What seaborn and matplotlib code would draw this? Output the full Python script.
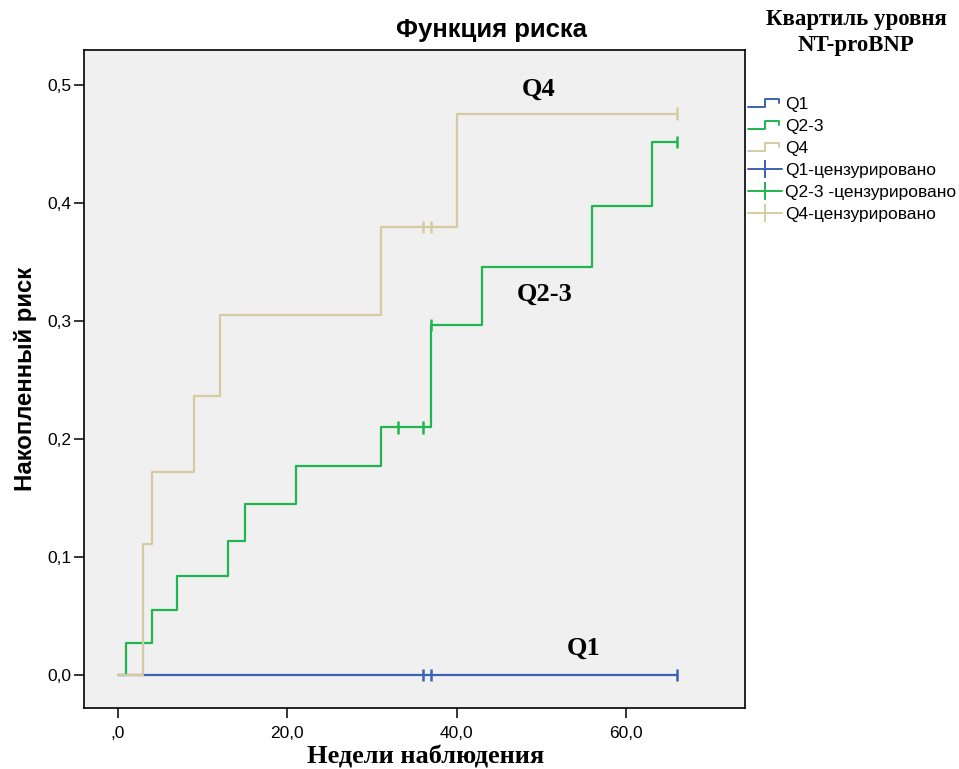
import numpy as np
import pandas as pd
import matplotlib
matplotlib.use("Agg")
import matplotlib.pyplot as plt
import seaborn as sns
from matplotlib.lines import Line2D
from matplotlib.legend_handler import HandlerBase

# ---------------- data ----------------
groups = ["Q1", "Q2-3", "Q4"]
q1_times = [0, 66]
q1_risk = [0.0, 0.0]
q23_times = [0, 1, 4, 7, 13, 15, 21, 31, 37, 43, 56, 63, 66]
q23_risk = [0.0, 0.027, 0.055, 0.084, 0.114, 0.145, 0.177, 0.210, 0.297, 0.346, 0.398, 0.452, 0.452]
q4_times = [0, 3, 4, 9, 12, 31, 40, 66]
q4_risk = [0.0, 0.111, 0.172, 0.237, 0.305, 0.380, 0.476, 0.476]
q1_censored = [36, 37, 66]
q23_censored = [33, 36, 37, 66]
q4_censored = [36, 37, 66]

x_ticks = [0, 20, 40, 60]
x_ticklabels = [",0", "20,0", "40,0", "60,0"]
y_ticks = [0.0, 0.1, 0.2, 0.3, 0.4, 0.5]
y_ticklabels = ["0,0", "0,1", "0,2", "0,3", "0,4", "0,5"]

title = "Функция риска"
xlabel = "Недели наблюдения"
ylabel = "Накопленный риск"
legend_title = "Квартиль уровня\nNT-proBNP"
legend_labels = ["Q1", "Q2-3", "Q4", "Q1-цензурировано", "Q2-3 -цензурировано", "Q4-цензурировано"]
colors = {"Q1": "#3d62b3", "Q2-3": "#1fb64f", "Q4": "#d6cba0"}

# ---------------- frames ----------------
series = {"Q1": (q1_times, q1_risk), "Q2-3": (q23_times, q23_risk), "Q4": (q4_times, q4_risk)}
cens = {"Q1": q1_censored, "Q2-3": q23_censored, "Q4": q4_censored}

rows = []
for g in groups:
    t, r = series[g]
    for a, b in zip(t, r):
        rows.append({"t": a, "risk": b, "grp": g})
df = pd.DataFrame(rows)

crow = []
for g in groups:
    t, r = series[g]
    t = np.asarray(t); r = np.asarray(r)
    for c in cens[g]:
        idx = np.searchsorted(t, c, side="right") - 1
        crow.append({"t": c, "risk": r[idx], "grp": g})
cdf = pd.DataFrame(crow)

# ---------------- style ----------------
sns.set_style("ticks")
plt.rcParams["font.family"] = ["Liberation Sans", "DejaVu Sans"]
for k in ["text.color", "axes.labelcolor", "xtick.color", "ytick.color"]:
    plt.rcParams[k] = "black"

fig = plt.figure(figsize=(9.59, 7.69), dpi=100)
ax = fig.add_axes([0.0876, 0.0793, 0.6893, 0.8557])
ax.set_facecolor("#f0f0f0")

sns.lineplot(data=df, x="t", y="risk", hue="grp", hue_order=groups, palette=colors,
             drawstyle="steps-post", estimator=None, legend=False, linewidth=1.6, ax=ax)
sns.scatterplot(data=cdf, x="t", y="risk", hue="grp", hue_order=groups, palette=colors,
                marker="|", s=80, linewidth=1.8, legend=False, ax=ax, zorder=3)

ax.set_xlim(-4, 74)
ax.set_ylim(-0.028, 0.530)
ax.set_xticks(x_ticks)
ax.set_xticklabels(x_ticklabels)
ax.set_yticks(y_ticks)
ax.set_yticklabels(y_ticklabels)
ax.tick_params(axis="both", direction="out", length=7, width=1.1, colors="black",
               labelsize=12.5, pad=2)
ax.tick_params(axis="x", pad=6)
for s in ax.spines.values():
    s.set_visible(True)
    s.set_color("black")
    s.set_linewidth(1.2)

ax.set_xlabel(xlabel, family="Liberation Serif", fontweight="bold", fontsize=19, va="center")
ax.xaxis.set_label_coords(0.517, -0.0745)
ax.set_ylabel(ylabel, fontweight="bold", fontsize=17.3, va="center")
ax.yaxis.set_label_coords(-0.088, 0.5)
fig.text(0.512, 0.961, title, ha="center", va="center", fontweight="bold", fontsize=18.5)

# curve annotations
for lab, tx, ty in [("Q4", 49.7, 0.497), ("Q2-3", 50.4, 0.323), ("Q1", 55.0, 0.023)]:
    ax.text(tx, ty, lab, ha="center", va="center", family="Liberation Serif",
            fontweight="bold", fontsize=19)


# ---------------- legend ----------------
class StepHandler(HandlerBase):
    def create_artists(self, legend, orig_handle, xdescent, ydescent, width, height,
                       fontsize, trans):
        x0, y0 = -xdescent, -ydescent
        xs = [x0, x0 + width * 0.5, x0 + width * 0.5, x0 + width * 0.92, x0 + width * 0.92]
        ys = [y0 + height * 0.15, y0 + height * 0.15, y0 + height * 0.85, y0 + height * 0.85,
              y0 + height * 0.5]
        ln = Line2D(xs, ys, color=orig_handle.get_color(), lw=1.4)
        ln.set_transform(trans)
        return [ln]


step_handles = [Line2D([], [], color=colors[g]) for g in groups]
cens_handles = [Line2D([], [], color=colors[g], lw=1.4, marker="|", markersize=13,
                       markeredgewidth=1.4) for g in groups]
hmap = {h: StepHandler() for h in step_handles}
fig.text(0.8926, 0.958, legend_title, ha="center", va="center", family="Liberation Serif",
         fontweight="bold", fontsize=16.5, linespacing=1.28)
leg = fig.legend(step_handles + cens_handles, legend_labels, loc="upper left",
                 bbox_to_anchor=(0.780, 0.874), frameon=False, fontsize=12.5,
                 borderpad=0, borderaxespad=0,
                 handlelength=1.95, handletextpad=0.17, labelspacing=0.39,
                 handler_map=hmap)

fig.savefig("out.png", dpi=100, facecolor="white")
